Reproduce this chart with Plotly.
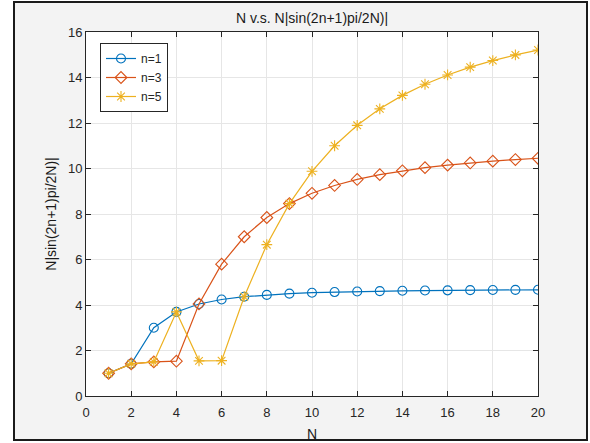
import plotly.graph_objects as go

N = list(range(1, 21))
n1 = [1.000, 1.414, 3.000, 3.696, 4.045, 4.243, 4.364, 4.445, 4.500, 4.540,
      4.569, 4.592, 4.610, 4.624, 4.635, 4.645, 4.653, 4.659, 4.665, 4.669]
n3 = [1.000, 1.414, 1.500, 1.531, 4.045, 5.796, 7.000, 7.846, 8.457, 8.910,
      9.254, 9.520, 9.730, 9.899, 10.037, 10.150, 10.244, 10.324, 10.393, 10.450]
n5 = [1.000, 1.414, 1.500, 3.696, 1.545, 1.553, 4.364, 6.652, 8.457, 9.877,
      11.000, 11.897, 12.622, 13.214, 13.703, 14.111, 14.455, 14.745, 14.993, 15.208]
series_names = ["n=1", "n=3", "n=5"]
x_ticks = [0, 2, 4, 6, 8, 10, 12, 14, 16, 18, 20]
y_ticks = [0, 2, 4, 6, 8, 10, 12, 14, 16]

colors = ["#0072BD", "#D95319", "#EDB120"]
symbols = ["circle-open", "diamond-open", "asterisk-open"]

fig = go.Figure()
for name, ys, c, s in zip(series_names, [n1, n3, n5], colors, symbols):
    fig.add_trace(go.Scatter(
        x=N, y=ys, name=name, mode="lines+markers",
        line=dict(color=c, width=1.2),
        marker=dict(symbol=s, size=9, color=c, line=dict(color=c, width=1.1)),
    ))

W, H = 590, 443
L, R, T, B = 86, 538, 32, 396
pw, ph = R - L, B - T
def px(x):
    return (x - L) / pw
def py(y):
    return (B - y) / ph

fig.add_shape(type="rect", xref="paper", yref="paper",
              x0=px(14), x1=px(587), y0=py(440), y1=py(2),
              fillcolor="#f3f3f3", line=dict(color="#1a1a1a", width=2), layer="below")
fig.add_shape(type="rect", xref="paper", yref="paper",
              x0=0, x1=1, y0=0, y1=1,
              fillcolor="white", line=dict(width=0), layer="below")

axcol = "#262626"
fig.update_layout(
    width=W, height=H,
    margin=dict(l=L, r=W - R, t=T, b=H - B, pad=0, autoexpand=False),
    paper_bgcolor="white", plot_bgcolor="white",
    font=dict(family="Liberation Sans, Arial, sans-serif", size=13, color=axcol),
    title=dict(text="N v.s. N|sin(2n+1)pi/2N)|", x=312 / W, xanchor="center",
               y=1 - 18 / H, yanchor="middle",
               font=dict(size=14, color="#1a1a1a")),
    showlegend=True,
    legend=dict(x=px(100), y=py(43), xanchor="left", yanchor="top",
                bgcolor="white", bordercolor=axcol, borderwidth=1,
                font=dict(size=12, color=axcol), tracegroupgap=0,
                itemwidth=30),
    xaxis=dict(range=[0, 20], tickvals=x_ticks, ticks="inside", ticklen=5,
               tickcolor=axcol, showline=True, linecolor=axcol, linewidth=1,
               mirror="ticks", showgrid=True, gridcolor="#e6e6e6", zeroline=False,
               automargin=False, ticklabelstandoff=4,
               title=dict(text="N", standoff=10, font=dict(size=14, color="#1a1a1a")),
               tickfont=dict(size=13, color=axcol)),
    yaxis=dict(range=[0, 16], tickvals=y_ticks, ticks="inside", ticklen=5,
               tickcolor=axcol, showline=True, linecolor=axcol, linewidth=1,
               mirror="ticks", showgrid=True, gridcolor="#e6e6e6", zeroline=False,
               automargin=False,
               title=dict(text="N|sin(2n+1)pi/2N)|", standoff=8,
                          font=dict(size=14, color="#1a1a1a")),
               tickfont=dict(size=13, color=axcol)),
)

fig.write_html("out.html", config={"displayModeBar": False},
               post_script="document.body.style.margin='0';document.body.style.overflow='hidden';")
